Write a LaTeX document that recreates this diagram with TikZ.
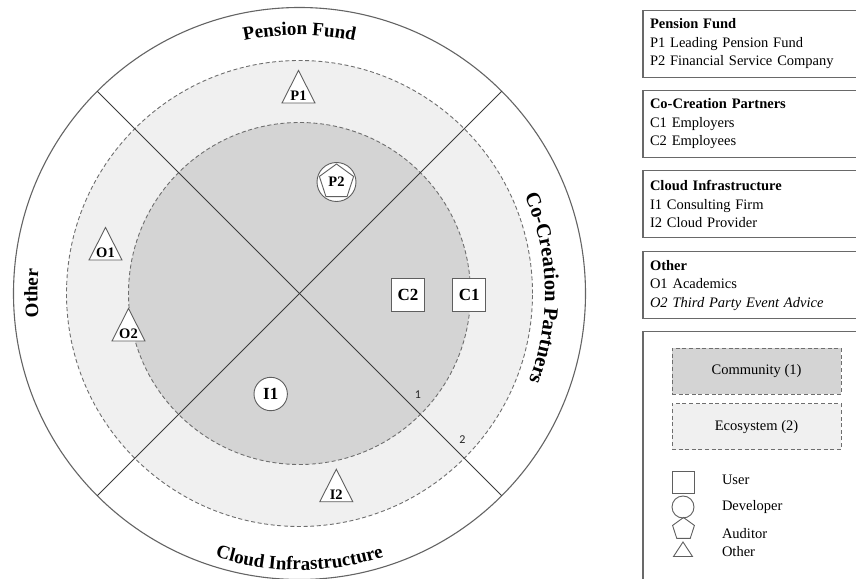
\documentclass[tikz,border=0pt]{standalone}
\usepackage{fontspec}
\setmainfont{Liberation Serif}
\newfontfamily\numfont{Carlito}
\usetikzlibrary{decorations.text,shapes.geometric,calc}

\definecolor{commfill}{RGB}{212,212,212}
\definecolor{ecofill}{RGB}{240,240,240}
\definecolor{rimline}{RGB}{100,100,100}
\definecolor{dashline}{RGB}{110,110,110}
\definecolor{crossline}{RGB}{60,60,60}
\definecolor{markgray}{RGB}{95,95,95}
\definecolor{boxgray}{RGB}{105,105,105}

\newcommand\arcfont{\fontsize{19}{19}\selectfont\bfseries}
\newcommand\sidefont{\fontsize{20.5}{20.5}\selectfont\bfseries}

% triangle marker: name, base centre, half width, height, label
\newcommand\othermark[5]{%
  \coordinate (#1) at #2;
  \draw[markline] ($(#1)+(-#3,0)$) -- ($(#1)+(0,#4)$) -- ($(#1)+(#3,0)$) -- cycle;
  \node[marklabel, anchor=base] (#1-text) at ($(#1)+(0,2.3)$) {#5};}

\begin{document}
\begin{tikzpicture}[x=1pt,y=1pt,
  every node/.style={inner sep=0pt, outer sep=0pt},
  zone/.style={circle, draw=dashline, line width=0.9pt, dash pattern=on 4pt off 2.6pt},
  rimstyle/.style={circle, draw=rimline, line width=1.1pt},
  divider/.style={draw=crossline, line width=0.9pt},
  markline/.style={draw=markgray, line width=0.9pt, fill=white},
  marklabel/.style={font=\fontsize{14.5}{14.5}\selectfont\bfseries},
  biglabel/.style={font=\fontsize{17}{17}\selectfont\bfseries},
  usermark/.style={markline, rectangle, minimum size=33pt, biglabel},
  devmark/.style={markline, circle, minimum size=33.4pt, biglabel},
  infobox/.style={draw=boxgray, line width=1.1pt, anchor=north west,
    minimum width=221.5pt, minimum height=67pt, text width=207.5pt,
    inner xsep=7pt, align=left, font=\fontsize{14.5}{18.5}\selectfont},
  keybox/.style={draw=dashline, line width=0.9pt, dash pattern=on 4pt off 2.6pt,
    minimum width=169pt, minimum height=46pt, font=\fontsize{14.5}{14.5}\selectfont},
  keylabel/.style={anchor=west, font=\fontsize{14.5}{14.5}\selectfont},
  levellabel/.style={font=\numfont\fontsize{12}{12}\selectfont, text=black!85},
  arctext/.style={decorate, decoration={text along path, text align=center, text={#1}}},
]
\useasboundingbox (-299.5,-284.5) rectangle (556.5,293.5);
\fill[white] (-299.5,-284.5) rectangle (556.5,293.5);

% --- rings ---------------------------------------------------------------
\node[zone, fill=ecofill, minimum size=466pt] (ecosystem) at (0,0) {};
\node[zone, fill=commfill, minimum size=342pt] (community) at (0,0) {};
\node[rimstyle, minimum size=572pt] (rim) at (0,0) {};

% --- quadrant dividers ----------------------------------------------------
\draw[divider] (rim.135) -- (rim.-45);
\draw[divider] (rim.45) -- (rim.-135);

% --- level numbers --------------------------------------------------------
\node[levellabel] (lvl1) at ($(community.-45)+(-2.5,20)$) {1};
\node[levellabel] (lvl2) at ($(ecosystem.-45)+(-1.8,19)$) {2};

% --- sector titles --------------------------------------------------------
\path[arctext={|\arcfont|Pension Fund}] (125:258.5) arc[start angle=125, end angle=55, radius=258.5];
\path[arctext={|\sidefont|Co-Creation Partners}] (37:245.5) arc[start angle=37, end angle=-34.4, radius=245.5];
\path[arctext={|\arcfont|Cloud Infrastructure}] (235:276.5) arc[start angle=235, end angle=305, radius=276.5];
\path[arctext={|\arcfont|Other}] (200:262) arc[start angle=200, end angle=160, radius=262];

% --- actors ---------------------------------------------------------------
\othermark{P1}{(-1,190.5)}{16.5}{32.5}{P1}
\othermark{O1}{(-194,33.5)}{16.5}{32.5}{O1}
\othermark{O2}{(-171,-47.5)}{16.5}{32.5}{O2}
\othermark{I2}{(36.8,-208.2)}{16.5}{32.5}{I2}

\node[markline, circle, minimum size=39pt] (P2ring) at (37,111.5) {};
\node[draw=markgray, line width=0.9pt, regular polygon, regular polygon sides=5,
      minimum size=36pt, marklabel] (P2) at (37,111.5) {P2};

\node[devmark] (I1) at (-28.8,-100.5) {I1};
\node[usermark] (C2) at (108.5,-1) {C2};
\node[usermark] (C1) at (169.8,-1) {C1};

% --- stakeholder lists ----------------------------------------------------
\node[infobox] (listP) at (343.5,283.2)
  {\textbf{Pension Fund}\\P1 Leading Pension Fund\\P2 Financial Service Company};
\node[infobox] (listC) at (343.5,203.2)
  {\textbf{Co-Creation Partners}\\C1 Employers\\C2 Employees};
\node[infobox] (listI) at (343.5,122.8)
  {\textbf{Cloud Infrastructure}\\I1 Consulting Firm\\I2 Cloud Provider};
\node[infobox] (listO) at (343.5,41.7)
  {\textbf{Other}\\O1 Academics\\\textit{O2 Third Party Event Advice}};

% --- key ------------------------------------------------------------------
\node[draw=boxgray, line width=1.1pt, anchor=north west,
      minimum width=221.5pt, minimum height=270pt] (keyframe) at (343.5,-38.2) {};
\node[keybox, fill=commfill] (keycomm) at (457,-77.85) {Community (1)};
\node[keybox, fill=ecofill] (keyeco) at (457,-133.15) {Ecosystem (2)};

\node[draw=markgray, line width=0.9pt, minimum size=22pt] (keyuser) at (384,-189) {};
\node[draw=markgray, line width=0.9pt, circle, minimum size=22pt] (keydev) at (383.5,-213.5) {};
\node[draw=markgray, line width=0.9pt, regular polygon, regular polygon sides=5,
      minimum size=23pt] (keyaud) at (384,-235.5) {};
\coordinate (keyother) at (383.5,-263);
\draw[draw=markgray, line width=0.9pt] ($(keyother)+(-9.5,0)$) -- ($(keyother)+(0,14.5)$)
  -- ($(keyother)+(9.5,0)$) -- cycle;

\node[keylabel] (txtuser) at (422.5,-186.5) {User};
\node[keylabel] (txtdev) at (422.5,-213.5) {Developer};
\node[keylabel] (txtaud) at (422.5,-239.8) {Auditor};
\node[keylabel] (txtother) at (422.5,-258.2) {Other};
\end{tikzpicture}
\end{document}
